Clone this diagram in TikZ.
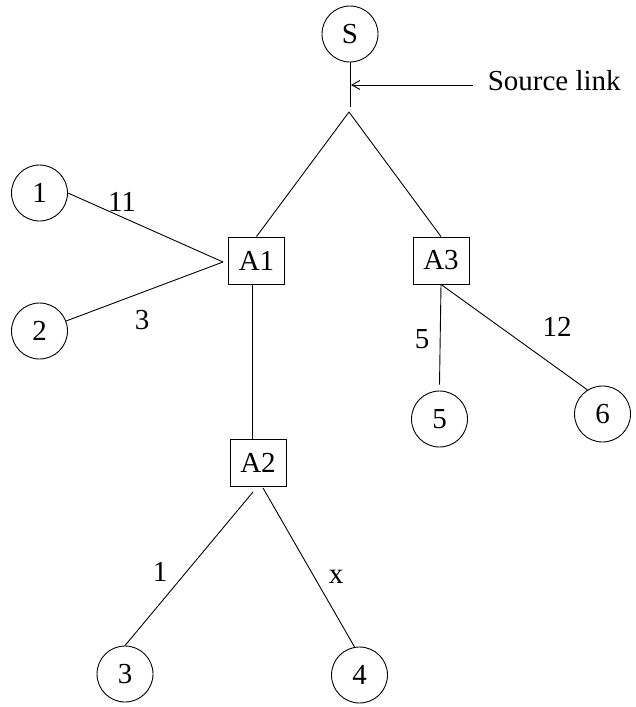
\documentclass[tikz,border=0pt]{standalone}
\usepackage{fontspec}
\setmainfont{Liberation Serif}
\usetikzlibrary{arrows}
\usetikzlibrary{arrows.meta}
\usetikzlibrary{positioning}

\begin{document}
\begin{tikzpicture}[x=1pt,y=-1pt,line width=0.9pt,
    every node/.style={font=\fontsize{29}{34}\selectfont},
    host/.style={draw,circle,minimum size=56pt,inner sep=0pt},
    agent/.style={draw,rectangle,minimum width=56pt,minimum height=47pt,inner sep=0pt},
    >={Straight Barb[length=8pt,width=9pt]}]
    \useasboundingbox (0,0) rectangle (635,707);

    % source and its link
    \node[host] (s) at (350,34) {S};
    \coordinate (stem) at (350,107);
    \coordinate (fork) at (349,112);
    \coordinate (tap) at (351,85);
    \node[anchor=west] (src) at (484,80.5) {Source link};

    % agents
    \node[agent] (a1) at (256.5,260.5) {A1};
    \node[agent] (a2) at (258,463) {A2};
    \node[agent] (a3) at (441,260.5) {A3};
    \coordinate (a1in) at (223,262);

    % hosts
    \node[host] (h1) at (39.5,193) {1};
    \node[host] (h2) at (39.5,331) {2};
    \node[host] (h3) at (125,674) {3};
    \node[host] (h4) at (359.5,675) {4};
    \node[host] (h5) at (439.5,419) {5};
    \node[host] (h6) at (602.5,414) {6};

    % link costs
    \node (w11) at (122,202) {11};
    \node (w3) at (142,320) {3};
    \node (w5) at (422,339) {5};
    \node (w12) at (557,327) {12};
    \node (w1) at (160,572) {1};
    \node (wx) at (336,577) {x};

\draw (s.south) -- (stem);
\draw [->,shorten <=11pt] (src.west |- tap) -- (tap);
\draw (fork) -- (a1.north);
\draw (fork) -- (a3.north);
\draw (h1.east) -- (a1in);
\draw (h2) -- (a1in);
\draw ([xshift=-4.5pt]a1.south) -- ([xshift=-4.5pt]a1.south |- a2.north);
\draw ([xshift=-5pt,yshift=-5pt]a2.south) -- (h3.north);
\draw ([xshift=5pt,yshift=-1pt]a2.south) -- (h4.100);
\draw (a3.south) -- ([yshift=6pt]h5.north);
\draw (a3.south) -- (h6.122);
\end{tikzpicture}
\end{document}
